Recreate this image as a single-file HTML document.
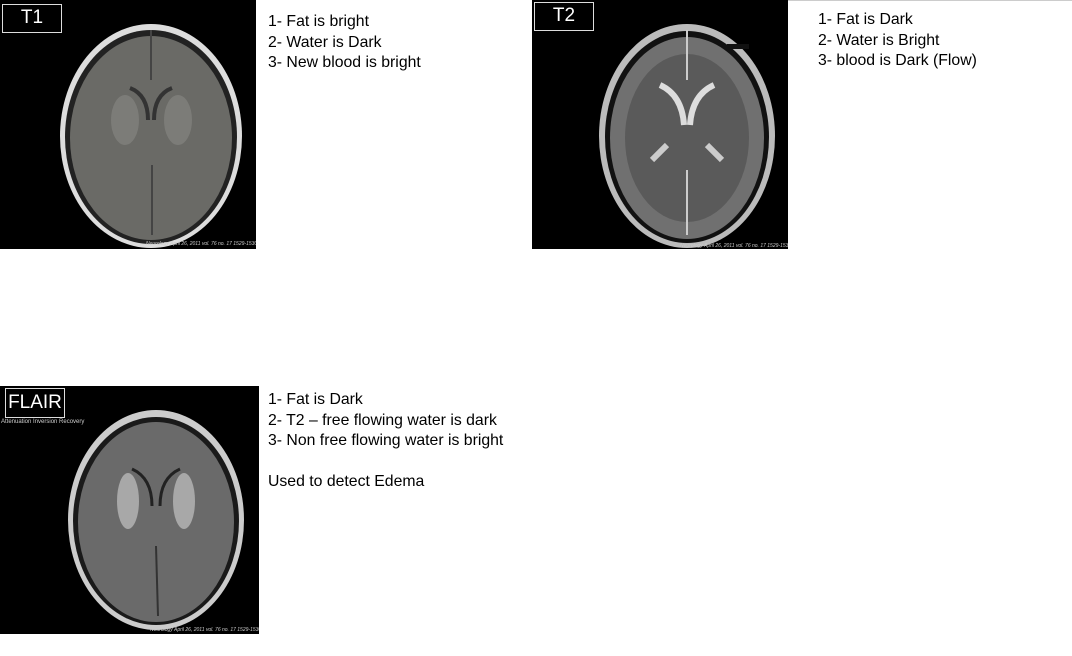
<!DOCTYPE html>
<html><head><meta charset="utf-8"><style>
body{margin:0;width:1072px;height:656px;background:#fff;position:relative;overflow:hidden;font-family:"Liberation Sans",sans-serif}
.img{position:absolute;background:#000}
.txt{position:absolute;font-size:15.8px;line-height:20.5px;color:#000;white-space:pre}
.lbl{position:absolute;border:1.5px solid #ddd;color:#fff;font-size:19px;text-align:center}
</style></head><body>
<div style="position:absolute;left:532px;top:0;width:540px;height:1px;background:#ccc"></div>

<div class="img" style="left:0;top:0;width:256px;height:249px">
<svg width="256" height="249">
<ellipse cx="151" cy="136" rx="91" ry="112" fill="#ddd"/>
<ellipse cx="151" cy="137" rx="86" ry="107" fill="#222"/>
<ellipse cx="151" cy="138" rx="81" ry="102" fill="#6a6a66"/>
<ellipse cx="125" cy="120" rx="14" ry="25" fill="#7c7c78"/>
<ellipse cx="178" cy="120" rx="14" ry="25" fill="#7c7c78"/>
<path d="M130 88 Q148 95 148 120 M172 88 Q154 95 154 120" stroke="#333" stroke-width="4" fill="none"/>
<line x1="151" y1="30" x2="151" y2="80" stroke="#444" stroke-width="2"/>
<line x1="152" y1="165" x2="152" y2="235" stroke="#444" stroke-width="2"/>
<text x="146" y="245" fill="#ccc" font-size="5" font-style="italic">Neurology April 26, 2011 vol. 76 no. 17 1529-1530</text>
</svg>
<div class="lbl" style="left:2px;top:4px;width:58px;height:27px;line-height:26px">T1</div>
</div>
<div class="txt" style="left:268px;top:12px">1- Fat is bright
2- Water is Dark
3- New blood is bright</div>

<div class="img" style="left:532px;top:0;width:256px;height:249px">
<svg width="256" height="249">
<ellipse cx="155" cy="136" rx="88" ry="112" fill="#bbb"/>
<ellipse cx="155" cy="137" rx="82" ry="106" fill="#111"/>
<ellipse cx="155" cy="138" rx="77" ry="101" fill="#707070"/>
<ellipse cx="155" cy="138" rx="62" ry="84" fill="#5a5a5a"/>
<path d="M128 85 Q150 95 152 125 M182 85 Q160 95 158 125" stroke="#ddd" stroke-width="6" fill="none"/>
<path d="M120 160 L135 145 M190 160 L175 145" stroke="#ccc" stroke-width="6"/>
<line x1="155" y1="30" x2="155" y2="80" stroke="#ccc" stroke-width="2"/>
<line x1="155" y1="170" x2="155" y2="235" stroke="#ccc" stroke-width="2"/>
<rect x="195" y="44" width="22" height="5" fill="#111"/>
<text x="148" y="247" fill="#ccc" font-size="5" font-style="italic">Neurology April 26, 2011 vol. 76 no. 17 1529-1530</text>
</svg>
<div class="lbl" style="left:2px;top:2px;width:58px;height:27px;line-height:26px">T2</div>
</div>
<div class="txt" style="left:818px;top:10px">1- Fat is Dark
2- Water is Bright
3- blood is Dark (Flow)</div>

<div class="img" style="left:0;top:386px;width:259px;height:248px">
<svg width="259" height="248">
<ellipse cx="156" cy="134" rx="88" ry="110" fill="#ccc"/>
<ellipse cx="156" cy="135" rx="83" ry="104" fill="#1a1a1a"/>
<ellipse cx="156" cy="136" rx="78" ry="100" fill="#6a6a6a"/>
<ellipse cx="128" cy="115" rx="11" ry="28" fill="#a8a8a8"/>
<ellipse cx="184" cy="115" rx="11" ry="28" fill="#a8a8a8"/>
<path d="M132 83 Q152 92 152 120 M180 83 Q160 92 160 120" stroke="#222" stroke-width="3" fill="none"/>
<line x1="156" y1="160" x2="158" y2="230" stroke="#333" stroke-width="2"/>
<text x="150" y="245" fill="#ccc" font-size="5" font-style="italic">Neurology April 26, 2011 vol. 76 no. 17 1529-1530</text>
</svg>
<div class="lbl" style="left:5px;top:2px;width:58px;height:28px;line-height:28px">FLAIR</div>
<div style="position:absolute;left:1px;top:33px;color:#ccc;font-size:6px">Attenuation Inversion Recovery</div>
</div>
<div class="txt" style="left:268px;top:390px">1- Fat is Dark
2- T2 – free flowing water is dark
3- Non free flowing water is bright

Used to detect Edema</div>
</body></html>
